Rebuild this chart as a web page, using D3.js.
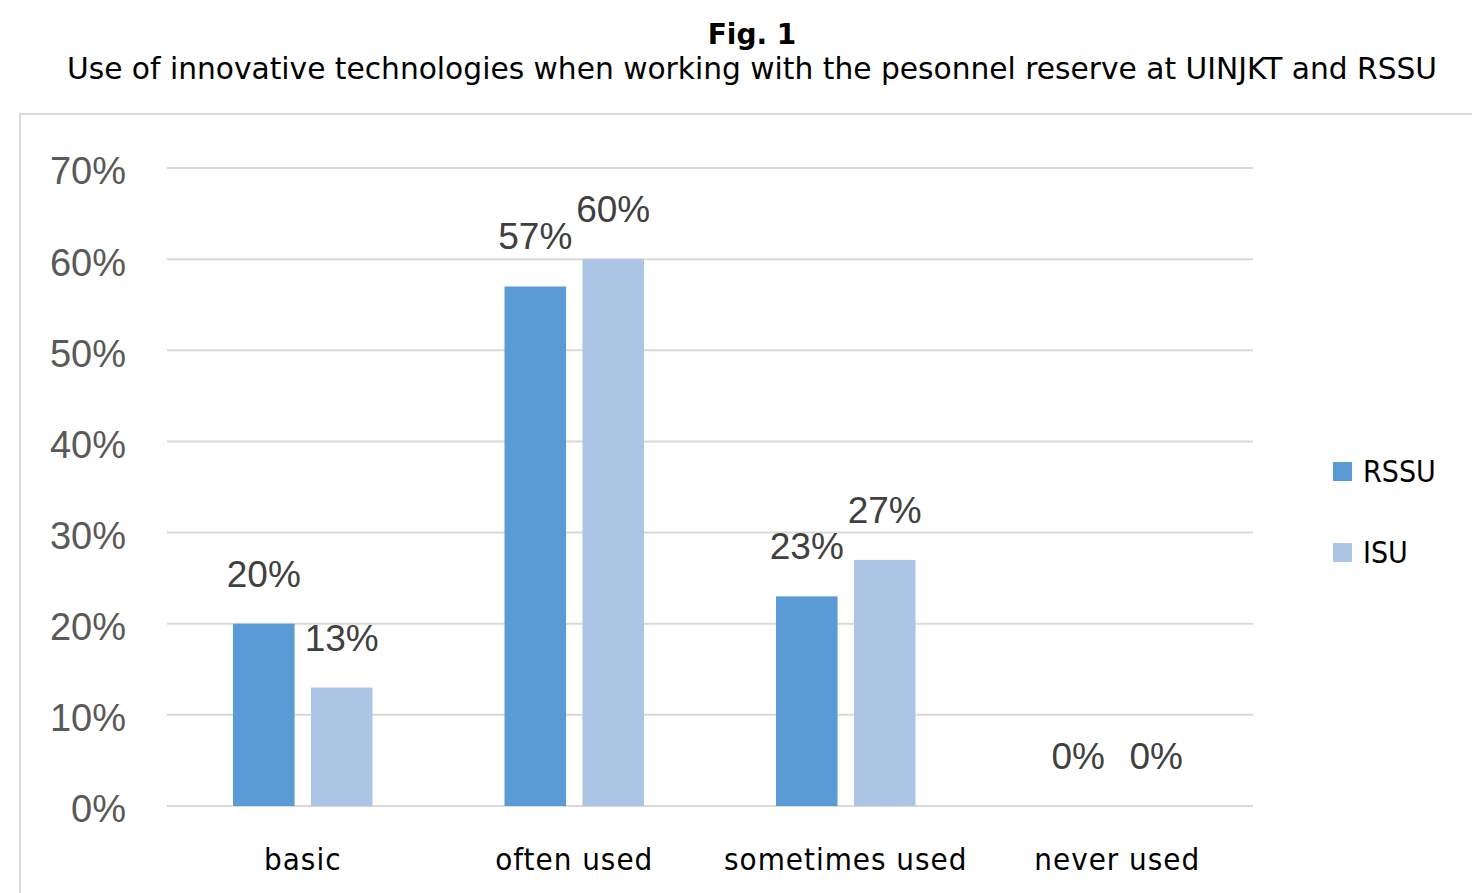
<!DOCTYPE html>
<html>
<head>
<meta charset="utf-8">
<script src="https://cdn.jsdelivr.net/npm/d3@7"></script>
<style>
  body { margin: 0; background: #fff; }
  svg { display: block; }
</style>
</head>
<body>
<div id="chart"></div>
<script>
// data
const categories = ["basic", "often used", "sometimes used", "never used"];
const seriesNames = ["RSSU", "ISU"];
const rssu = [20, 57, 23, 0];
const isu = [13, 60, 27, 0];
const yTicks = [0, 10, 20, 30, 40, 50, 60, 70];
const colors = ["#5b9bd5", "#adc5e5"];

const width = 1472, height = 893;
const svg = d3.select("#chart").append("svg")
  .attr("width", width)
  .attr("height", height);

// titles
svg.append("text")
  .attr("x", 752).attr("y", 44)
  .attr("text-anchor", "middle")
  .style("font-family", "DejaVu Sans, Verdana, sans-serif")
  .style("font-weight", "bold")
  .style("font-size", "28px")
  .text("Fig. 1");
svg.append("text")
  .attr("x", 752).attr("y", 79)
  .attr("text-anchor", "middle")
  .style("font-family", "DejaVu Sans, Verdana, sans-serif")
  .style("font-size", "29.7px")
  .text("Use of innovative technologies when working with the pesonnel reserve at UINJKT and RSSU");

// chart frame (runs off the page on the right and bottom)
svg.append("rect")
  .attr("x", 20).attr("y", 114)
  .attr("width", 1500).attr("height", 820)
  .attr("fill", "none")
  .attr("stroke", "#d9d9d9")
  .attr("stroke-width", 2);

const plot = { left: 167, right: 1253, top: 168, bottom: 806 };

const x = d3.scaleBand()
  .domain(categories)
  .range([plot.left, plot.right]);
const inner = d3.scaleBand()
  .domain(seriesNames)
  .range([66, x.bandwidth() - 66])
  .paddingInner(0.21);
const y = d3.scaleLinear()
  .domain([0, 70])
  .range([plot.bottom, plot.top]);

// gridlines
svg.append("g")
  .selectAll("line")
  .data(yTicks)
  .join("line")
  .attr("x1", plot.left).attr("x2", plot.right)
  .attr("y1", d => y(d)).attr("y2", d => y(d))
  .attr("stroke", "#d9d9d9")
  .attr("stroke-width", 2);

// y axis labels
const yAxis = d3.axisLeft(y)
  .tickValues(yTicks)
  .tickFormat(d => d + "%")
  .tickSize(0)
  .tickPadding(0);
const yg = svg.append("g")
  .attr("transform", `translate(126,0)`)
  .call(yAxis);
yg.select(".domain").remove();
yg.selectAll("text")
  .attr("dy", "0.42em")
  .attr("fill", "#595959")
  .style("font-family", "Liberation Sans, Arial, sans-serif")
  .style("font-size", "38px");

// x axis labels
const xg = svg.append("g")
  .attr("transform", `translate(0,${plot.bottom})`)
  .call(d3.axisBottom(x).tickSize(0).tickPadding(0));
xg.select(".domain").remove();
xg.selectAll("text")
  .attr("y", 64)
  .attr("dy", 0)
  .attr("fill", "#000")
  .style("font-family", "DejaVu Sans Condensed, DejaVu Sans, sans-serif")
  .style("font-stretch", "condensed")
  .style("font-size", "31px")
  .style("letter-spacing", "1px");

// bars
const rows = categories.map((c, i) => ({
  cat: c,
  values: [
    { name: "RSSU", v: rssu[i] },
    { name: "ISU", v: isu[i] }
  ]
}));

const groups = svg.append("g")
  .selectAll("g")
  .data(rows)
  .join("g")
  .attr("transform", d => `translate(${x(d.cat)},0)`);

groups.selectAll("rect")
  .data(d => d.values)
  .join("rect")
  .attr("x", d => inner(d.name))
  .attr("width", inner.bandwidth())
  .attr("y", d => y(d.v))
  .attr("height", d => y(0) - y(d.v))
  .attr("fill", (d, i) => colors[i]);

groups.selectAll("text")
  .data(d => d.values)
  .join("text")
  .attr("x", d => inner(d.name) + inner.bandwidth() / 2)
  .attr("y", d => y(d.v) - 37)
  .attr("text-anchor", "middle")
  .attr("fill", "#404040")
  .style("font-family", "Liberation Sans, Arial, sans-serif")
  .style("font-size", "37px")
  .text(d => d.v + "%");

// legend
const legend = svg.append("g")
  .selectAll("g")
  .data(seriesNames)
  .join("g")
  .attr("transform", (d, i) => `translate(1333,${462 + i * 81})`);
legend.append("rect")
  .attr("width", 19).attr("height", 19)
  .attr("fill", (d, i) => colors[i]);
legend.append("text")
  .attr("x", 30).attr("y", 20)
  .attr("fill", "#000")
  .style("font-family", "DejaVu Sans Condensed, DejaVu Sans, sans-serif")
  .style("font-stretch", "condensed")
  .style("font-size", "30px")
  .text(d => d);
</script>
</body>
</html>
